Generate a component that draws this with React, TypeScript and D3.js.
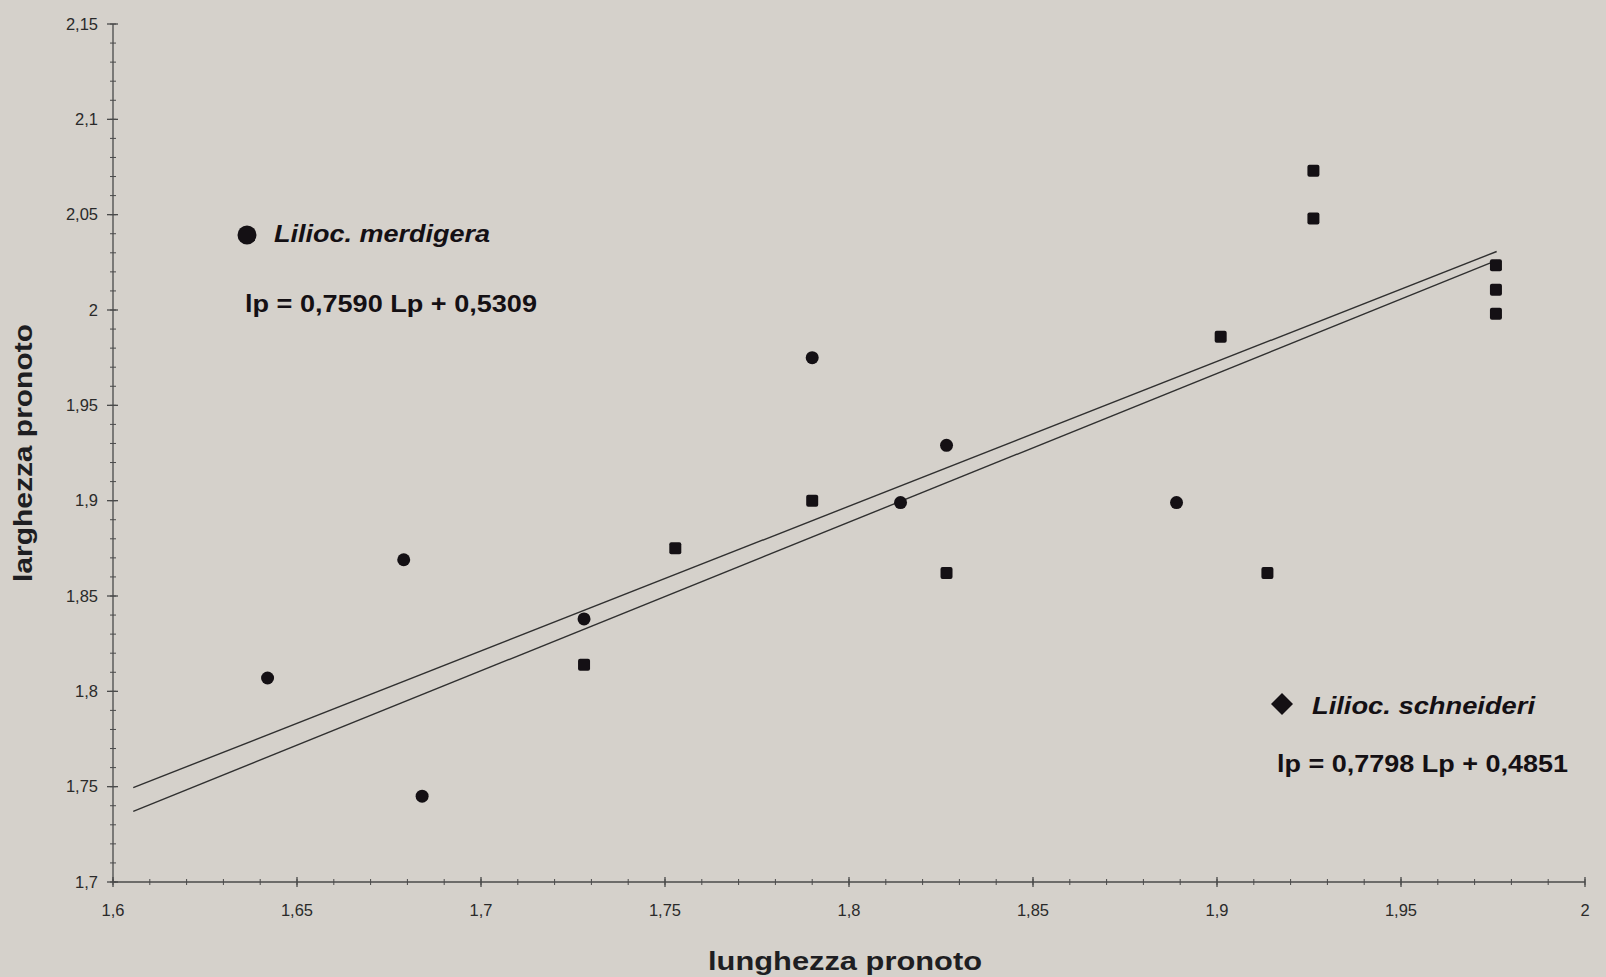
import React from "react";
import * as d3 from "d3";

const merdigeraX = [1.642, 1.679, 1.684, 1.728, 1.790, 1.814, 1.8265, 1.889];
const merdigeraY = [1.807, 1.869, 1.745, 1.838, 1.975, 1.899, 1.929, 1.899];

const schneideriX = [1.728, 1.7528, 1.790, 1.8265, 1.901, 1.9137, 1.9262, 1.9262, 1.9758, 1.9758, 1.9758];
const schneideriY = [1.814, 1.875, 1.900, 1.862, 1.986, 1.862, 2.073, 2.048, 2.0235, 2.0106, 1.998];

const regMerdigera = { slope: 0.7590, intercept: 0.5309 };
const regSchneideri = { slope: 0.7798, intercept: 0.4851 };
const lineRange = [1.6055, 1.976];

const xTicks = [1.6, 1.65, 1.7, 1.75, 1.8, 1.85, 1.9, 1.95, 2];
const xTickLabels = ["1,6", "1,65", "1,7", "1,75", "1,8", "1,85", "1,9", "1,95", "2"];
const yTicks = [1.7, 1.75, 1.8, 1.85, 1.9, 1.95, 2, 2.05, 2.1, 2.15];
const yTickLabels = ["1,7", "1,75", "1,8", "1,85", "1,9", "1,95", "2", "2,05", "2,1", "2,15"];

const W = 1606, H = 977;
const FONT = "'Liberation Sans', Arial, sans-serif";

export default function App() {
  const x = d3.scaleLinear().domain([1.6, 2]).range([113, 1585]);
  const y = d3.scaleLinear().domain([1.7, 2.15]).range([882, 24]);
  const minorX = d3.range(0, 41).map((i) => 1.6 + i * 0.01);
  const minorY = d3.range(0, 46).map((i) => 1.7 + i * 0.01);
  const axisColor = "#4a4a4a";
  const ink = "#141014";

  const regLine = (r: { slope: number; intercept: number }) => {
    const gen = d3.line<number>().x((v) => x(v)).y((v) => y(r.slope * v + r.intercept));
    return gen(lineRange) || "";
  };

  return (
    <svg width={W} height={H} style={{ position: "absolute", left: 0, top: 0, display: "block" }}>
      <rect x={0} y={0} width={W} height={H} fill="#d5d1cb" />
      {/* axes */}
      <line x1={x(1.6)} x2={x(2)} y1={y(1.7)} y2={y(1.7)} stroke={axisColor} strokeWidth={1.3} />
      <line x1={x(1.6)} x2={x(1.6)} y1={y(1.7)} y2={y(2.15)} stroke={axisColor} strokeWidth={1.3} />
      {minorX.map((v, i) => (
        <line key={"mx" + i} x1={x(v)} x2={x(v)} y1={y(1.7) - 3} y2={y(1.7) + 3} stroke={axisColor} strokeWidth={1} />
      ))}
      {minorY.map((v, i) => (
        <line key={"my" + i} x1={x(1.6) - 3} x2={x(1.6) + 3} y1={y(v)} y2={y(v)} stroke={axisColor} strokeWidth={1} />
      ))}
      {xTicks.map((v, i) => (
        <g key={"xt" + i}>
          <line x1={x(v)} x2={x(v)} y1={y(1.7) - 5} y2={y(1.7) + 5} stroke={axisColor} strokeWidth={1.3} />
          <text x={x(v)} y={916} textAnchor="middle" fontFamily={FONT} fontSize={16.5} fill="#2a2a2a">
            {xTickLabels[i]}
          </text>
        </g>
      ))}
      {yTicks.map((v, i) => (
        <g key={"yt" + i}>
          <line x1={x(1.6) - 6} x2={x(1.6) + 5} y1={y(v)} y2={y(v)} stroke={axisColor} strokeWidth={1.3} />
          <text x={98} y={y(v)} dy="0.35em" textAnchor="end" fontFamily={FONT} fontSize={16.5} fill="#2a2a2a">
            {yTickLabels[i]}
          </text>
        </g>
      ))}
      {/* regression lines */}
      <path d={regLine(regMerdigera)} fill="none" stroke="#303030" strokeWidth={1.4} />
      <path d={regLine(regSchneideri)} fill="none" stroke="#303030" strokeWidth={1.4} />
      {/* points */}
      {merdigeraX.map((v, i) => (
        <circle key={"m" + i} cx={x(v)} cy={y(merdigeraY[i])} r={6.5} fill={ink} />
      ))}
      {schneideriX.map((v, i) => (
        <rect key={"s" + i} x={x(v) - 6} y={y(schneideriY[i]) - 6} width={12} height={12} rx={2} fill={ink} />
      ))}
      {/* legends */}
      <circle cx={247} cy={235} r={9.5} fill={ink} />
      <text x={274} y={242} fontFamily={FONT} fontSize={23} fontWeight="bold" fontStyle="italic" fill={ink} textLength={216} lengthAdjust="spacingAndGlyphs">
        Lilioc. merdigera
      </text>
      <text x={245} y={312} fontFamily={FONT} fontSize={24} fontWeight="bold" fill={ink} textLength={292} lengthAdjust="spacingAndGlyphs">
        lp = 0,7590 Lp + 0,5309
      </text>
      <path d={`M1282,693 L1293,704 L1282,715 L1271,704 Z`} fill={ink} />
      <text x={1312} y={714} fontFamily={FONT} fontSize={23} fontWeight="bold" fontStyle="italic" fill={ink} textLength={223} lengthAdjust="spacingAndGlyphs">
        Lilioc. schneideri
      </text>
      <text x={1277} y={772} fontFamily={FONT} fontSize={24} fontWeight="bold" fill={ink} textLength={291} lengthAdjust="spacingAndGlyphs">
        lp = 0,7798 Lp + 0,4851
      </text>
      {/* axis titles */}
      <text x={708} y={970} fontFamily={FONT} fontSize={26} fontWeight="bold" fill="#1e1e22" textLength={274} lengthAdjust="spacingAndGlyphs">
        lunghezza pronoto
      </text>
      <text transform="translate(32,582) rotate(-90)" x={0} y={0} fontFamily={FONT} fontSize={26} fontWeight="bold" fill="#1e1e22" textLength={258} lengthAdjust="spacingAndGlyphs">
        larghezza pronoto
      </text>
    </svg>
  );
}
